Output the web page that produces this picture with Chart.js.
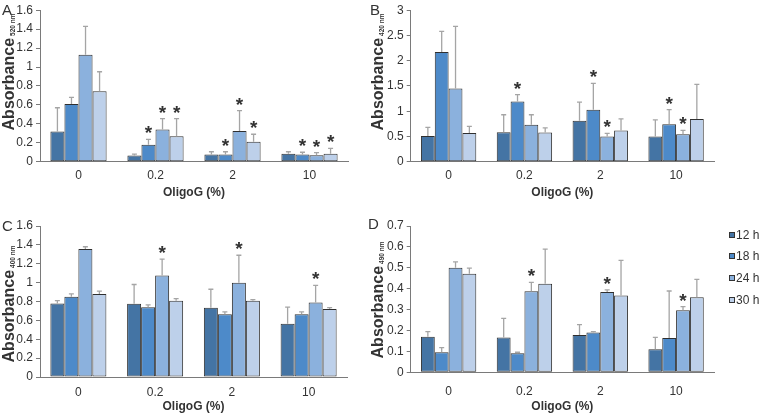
<!DOCTYPE html>
<html>
<head>
<meta charset="utf-8">
<script src="https://cdn.jsdelivr.net/npm/chart.js@4.4.0/dist/chart.umd.min.js"></script>
<style>
  body { margin: 0; background: #fff; }
  #wrap { position: relative; width: 760px; height: 415px; overflow: hidden; color: #333;
          font-family: 'Liberation Sans', Arial, sans-serif; }
  canvas { position: absolute; }
  .letter { position: absolute; font-size: 15px; line-height: 1; }
  .ytitle { position: absolute; white-space: nowrap; font-weight: bold; font-size: 16px; line-height: 1;
            transform: translate(-50%, -50%) rotate(-90deg); }
  .ytitle sub { font-size: 6.5px; vertical-align: -1px; margin-left: 2px; }
  .leg { position: absolute; font-size: 12px; line-height: 1; white-space: nowrap; }
  .leg span { position: absolute; left: -7px; top: 3px; width: 6px; height: 6px; box-sizing: border-box; border: 1px solid #333; }
</style>
</head>
<body>
<div id="wrap">
  <canvas id="chartA" width="380" height="205" style="left:0;top:0"></canvas>
  <canvas id="chartB" width="380" height="205" style="left:380px;top:0"></canvas>
  <canvas id="chartC" width="380" height="215" style="left:0;top:200px"></canvas>
  <canvas id="chartD" width="380" height="215" style="left:380px;top:200px"></canvas>
  <div class="letter" style="left:2px;top:2px">A</div>
  <div class="letter" style="left:370px;top:2px">B</div>
  <div class="letter" style="left:2px;top:218px">C</div>
  <div class="letter" style="left:368px;top:216px">D</div>
  <div class="ytitle" style="left:8.5px;top:72px">Absorbance<sub>520 nm</sub></div>
  <div class="ytitle" style="left:378px;top:72px">Absorbance<sub>420 nm</sub></div>
  <div class="ytitle" style="left:9px;top:304px">Absorbance<sub>400 nm</sub></div>
  <div class="ytitle" style="left:378px;top:300px">Absorbance<sub>490 nm</sub></div>
  <div id="legend"></div>
</div>
<script>
const groups = ['0', '0.2', '2', '10'];
const series = ['12 h', '18 h', '24 h', '30 h'];

// A - rows are the series (12, 18, 24, 30 h), columns the OligoG groups
const aMeans = [
  [0.32, 0.065, 0.075, 0.085],
  [0.61, 0.18, 0.075, 0.075],
  [1.13, 0.34, 0.325, 0.068],
  [0.745, 0.27, 0.21, 0.085]
];
const aUpper = [
  [0.57, 0.08, 0.105, 0.105],
  [0.68, 0.235, 0.105, 0.10],
  [1.43, 0.455, 0.54, 0.095],
  [0.95, 0.455, 0.29, 0.14]
];
const aStars = [[0, 0, 0, 0], [0, 1, 1, 1], [0, 1, 1, 1], [0, 1, 1, 1]];
const aTicks = ['0', '0.2', '0.4', '0.6', '0.8', '1', '1.2', '1.4', '1.6'];

// B
const bMeans = [
  [0.51, 0.585, 0.81, 0.50],
  [2.17, 1.19, 1.03, 0.74],
  [1.45, 0.73, 0.50, 0.545],
  [0.57, 0.58, 0.62, 0.845]
];
const bUpper = [
  [0.68, 0.93, 1.18, 0.83],
  [2.58, 1.33, 1.55, 1.03],
  [2.68, 0.93, 0.56, 0.62],
  [0.70, 0.67, 0.85, 1.53]
];
const bStars = [[0, 0, 0, 0], [0, 1, 1, 1], [0, 0, 1, 1], [0, 0, 0, 0]];
const bTicks = ['0', '0.5', '1', '1.5', '2', '2.5', '3'];

// C
const cMeans = [
  [0.78, 0.775, 0.735, 0.565],
  [0.85, 0.74, 0.665, 0.665],
  [1.355, 1.075, 1.0, 0.79],
  [0.88, 0.807, 0.807, 0.72]
];
const cUpper = [
  [0.81, 0.98, 0.93, 0.74],
  [0.88, 0.765, 0.69, 0.69],
  [1.38, 1.25, 1.29, 0.97],
  [0.91, 0.83, 0.82, 0.735]
];
const cStars = [[0, 0, 0, 0], [0, 0, 0, 0], [0, 1, 1, 1], [0, 0, 0, 0]];
const cTicks = ['0', '0.2', '0.4', '0.6', '0.8', '1', '1.2', '1.4', '1.6'];

// D
const dMeans = [
  [0.17, 0.166, 0.179, 0.11],
  [0.096, 0.091, 0.19, 0.164],
  [0.50, 0.388, 0.384, 0.297],
  [0.472, 0.424, 0.367, 0.359]
];
const dUpper = [
  [0.195, 0.258, 0.228, 0.167],
  [0.118, 0.096, 0.195, 0.389],
  [0.528, 0.43, 0.394, 0.314],
  [0.498, 0.589, 0.536, 0.445]
];
const dStars = [[0, 0, 0, 0], [0, 0, 0, 0], [0, 1, 1, 1], [0, 0, 0, 0]];
const dTicks = ['0', '0.1', '0.2', '0.3', '0.4', '0.5', '0.6', '0.7'];

const colors = ['#4474a4', '#4d8ac9', '#8bb1dd', '#bdd0ea'];
const axisColor = '#7a7a7a';
const textColor = '#333';

Chart.defaults.font.family = "'Liberation Sans', Arial, sans-serif";

// error bars (upper side only) and the significance stars
const errorBars = {
  id: 'errorBars',
  afterDatasetsDraw(chart) {
    const ctx = chart.ctx;
    const y = chart.scales.y;
    ctx.save();
    chart.data.datasets.forEach((ds, i) => {
      chart.getDatasetMeta(i).data.forEach((bar, j) => {
        const yTop = y.getPixelForValue(ds.upper[j]);
        ctx.strokeStyle = '#a5a5a5';
        ctx.lineWidth = 1.3;
        ctx.beginPath();
        ctx.moveTo(bar.x, bar.y);
        ctx.lineTo(bar.x, yTop);
        ctx.moveTo(bar.x - 2.5, yTop);
        ctx.lineTo(bar.x + 2.5, yTop);
        ctx.stroke();
        if (ds.stars[j]) {
          ctx.fillStyle = textColor;
          ctx.font = 'bold 19px "Liberation Sans", Arial, sans-serif';
          ctx.textAlign = 'center';
          ctx.textBaseline = 'alphabetic';
          const m = ctx.measureText('*');
          const cy = yTop - 9.5;
          ctx.fillText('*', bar.x, cy + (m.actualBoundingBoxAscent - m.actualBoundingBoxDescent) / 2);
        }
      });
    });
    ctx.restore();
  }
};

function makePanel(id, means, upper, stars, tickLabels, yMax, step, box) {
  new Chart(document.getElementById(id), {
    type: 'bar',
    data: {
      labels: groups,
      datasets: series.map((name, s) => ({
        label: name,
        data: means[s],
        upper: upper[s],
        stars: stars[s],
        backgroundColor: colors[s],
        borderColor: '#2f2f2f',
        borderWidth: 1,
        borderSkipped: false,
        categoryPercentage: 0.73,
        barPercentage: 1
      }))
    },
    options: {
      responsive: false,
      animation: false,
      layout: { padding: { left: 0, top: box.top, right: box.right, bottom: 0 } },
      plugins: { legend: { display: false }, tooltip: { enabled: false } },
      scales: {
        x: {
          grid: { display: false, drawTicks: false },
          border: { color: axisColor },
          ticks: { font: { size: 12 }, color: textColor, padding: box.xPad },
          title: {
            display: true, text: 'OligoG (%)', color: textColor,
            font: { size: 12, weight: 'bold' }, padding: { top: 0, bottom: box.titlePad }
          },
          afterFit: s => { s.height = box.xHeight; }
        },
        y: {
          min: 0,
          max: yMax,
          grid: { drawOnChartArea: false, drawTicks: true, tickLength: 4, color: axisColor },
          border: { color: axisColor },
          ticks: { stepSize: step, padding: 3, font: { size: 12 }, color: textColor,
                   callback: (v, i) => tickLabels[i] },
          afterFit: s => { s.width = box.yWidth; }
        }
      }
    },
    plugins: [errorBars]
  });
}

makePanel('chartA', aMeans, aUpper, aStars, aTicks, 1.6, 0.2,
  { top: 9.3, right: 32, yWidth: 40, xHeight: 43.3, xPad: 7, titlePad: 5 });
makePanel('chartB', bMeans, bUpper, bStars, bTicks, 3, 0.5,
  { top: 9.3, right: 46, yWidth: 30.7, xHeight: 43.3, xPad: 7, titlePad: 5 });
makePanel('chartC', cMeans, cUpper, cStars, cTicks, 1.6, 0.2,
  { top: 26, right: 33, yWidth: 40, xHeight: 38, xPad: 8, titlePad: 1 });
makePanel('chartD', dMeans, dUpper, dStars, dTicks, 0.7, 0.1,
  { top: 26, right: 46, yWidth: 30.7, xHeight: 42.7, xPad: 12, titlePad: 1 });

// legend next to panel D
const legend = document.getElementById('legend');
series.forEach((name, s) => {
  const row = document.createElement('div');
  row.className = 'leg';
  row.style.left = '736px';
  row.style.top = (235 + s * 21.8 - 6.5) + 'px';
  const sw = document.createElement('span');
  sw.style.background = colors[s];
  row.appendChild(sw);
  row.appendChild(document.createTextNode(name));
  legend.appendChild(row);
});
</script>
</body>
</html>
